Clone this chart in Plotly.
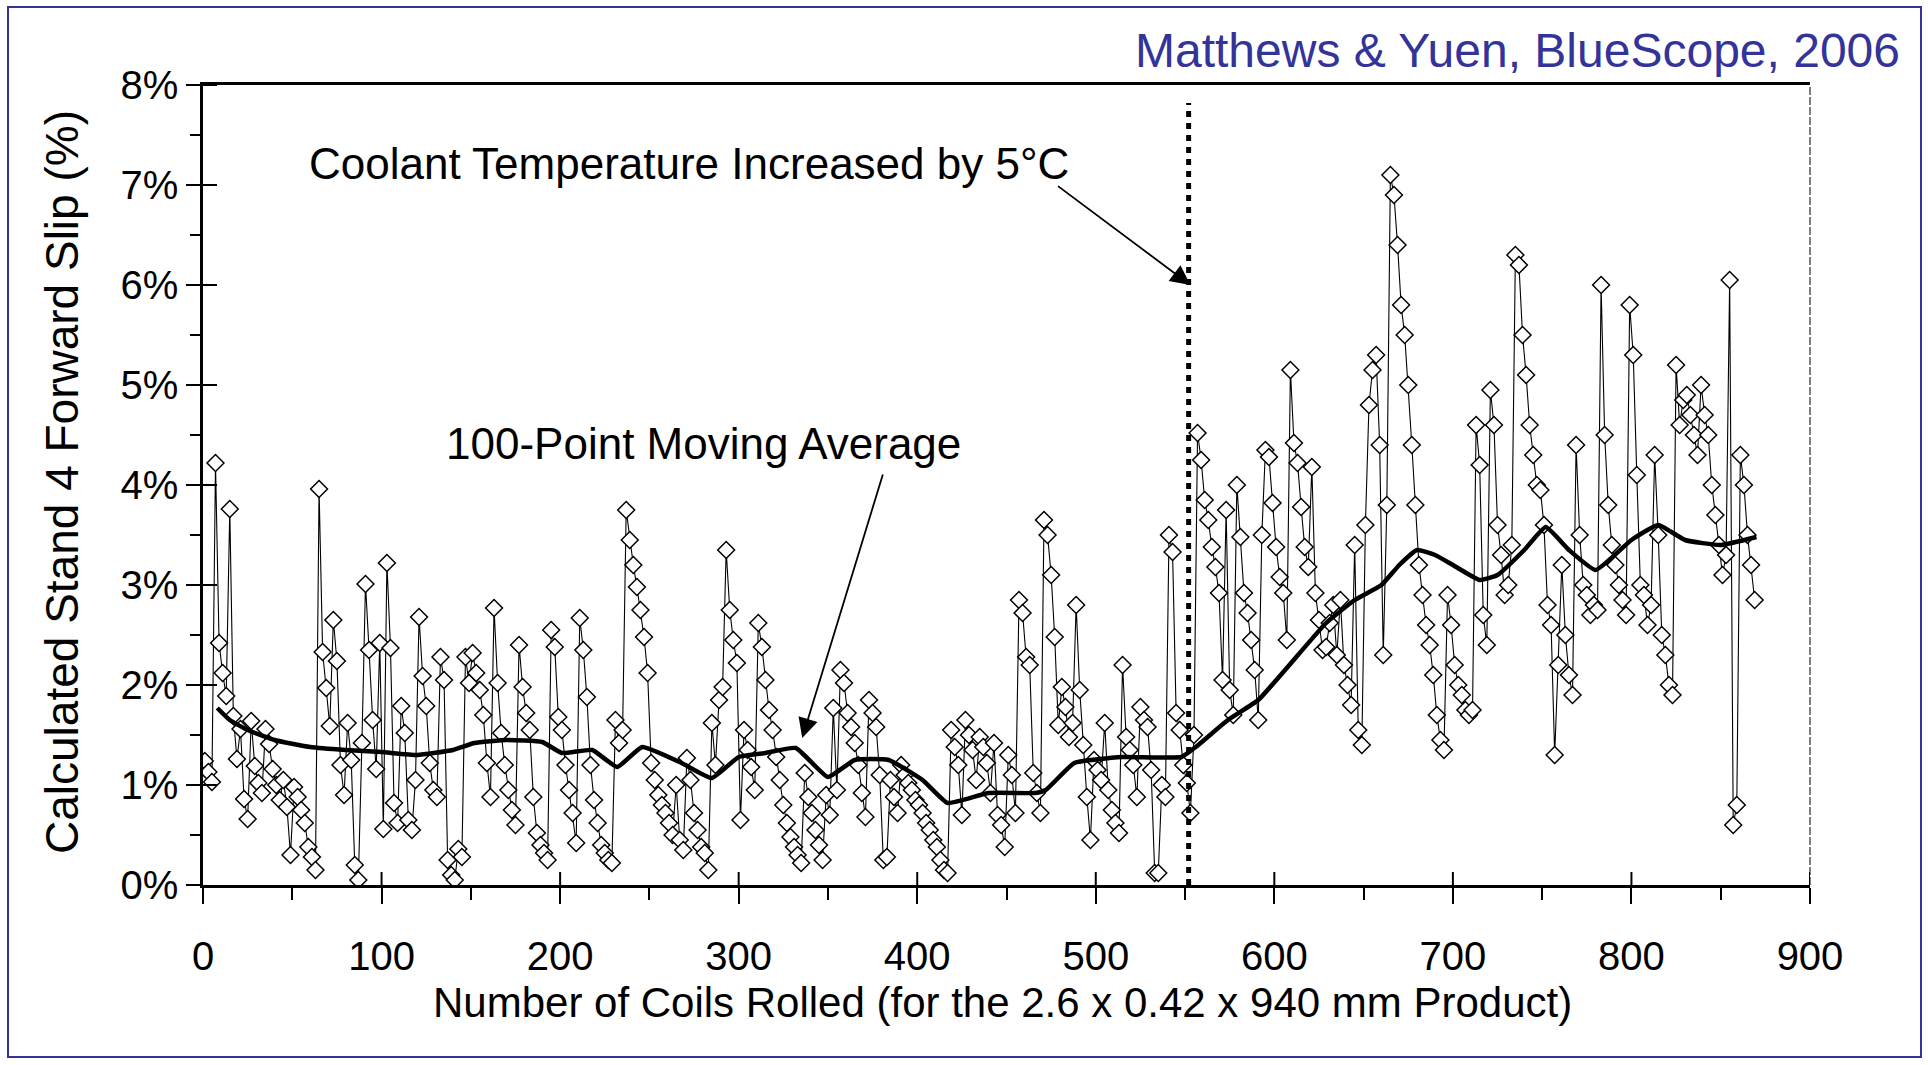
import plotly.graph_objects as go

# Stand 4 forward slip (%) for every second coil rolled, coils 1, 3, 5, ... 869
slip_pct = [
    1.24, 1.13, 1.03, 4.22, 2.42,   2.12, 1.89, 3.76, 1.69, 1.26,
    1.56, 0.86, 0.66, 1.64, 1.19,   1.02, 0.92, 1.56, 1.41, 1.16,
    1.00, 0.85, 1.05, 0.78, 0.30,   0.98, 0.88, 0.75, 0.62, 0.38,
    0.28, 0.15, 3.96, 2.33, 1.97,   1.59, 2.65, 2.24, 1.20, 0.90,
    1.62, 1.25, 0.20, 0.05, 1.42,   3.01, 2.35, 1.65, 1.16, 2.42,
    0.56, 3.22, 2.37, 0.82, 0.62,   1.79, 1.52, 0.65, 0.55, 1.05,
    2.68, 2.09, 1.79, 1.22, 0.95,   0.88, 2.28, 2.05, 0.25, 0.10,
    0.05, 0.36, 0.28, 2.28, 2.02,
    2.32, 2.12, 1.95, 1.70, 1.22,   0.88, 2.77, 2.02, 1.52, 1.20,
    0.95, 0.75, 0.60, 2.40, 1.98,   1.72, 1.55, 0.88, 0.52, 0.40,
    0.32, 0.25, 2.55, 2.38, 1.68,   1.55, 1.20, 0.95, 0.72, 0.42,
    2.67, 2.35, 1.88, 1.20, 0.85,   0.62, 0.40, 0.32, 0.25, 0.22,
    1.65, 1.42, 1.55, 3.75, 3.45,   3.20, 2.98, 2.75, 2.48, 2.12,
    1.22, 1.05, 0.90, 0.80, 0.72,   0.62, 0.50, 1.00, 0.45, 0.35,
    1.27, 1.05, 0.72, 0.55, 0.38,   0.32, 0.15, 1.62, 1.20, 1.85,
    1.98, 3.35, 2.75, 2.45, 2.22,   0.65, 1.55, 1.35, 1.18, 0.95,
    2.62, 2.38, 2.05, 1.75, 1.55,
    1.28, 1.05, 0.80, 0.62, 0.48,   0.38, 0.30, 0.22, 1.12, 0.88,
    0.72, 0.55, 0.40, 0.25, 0.90,   0.70, 1.77, 0.95, 2.15, 2.02,
    1.72, 1.58, 1.42, 1.20, 0.92,   0.68, 1.85, 1.72, 1.58, 1.10,
    0.25, 0.28, 1.05, 0.88, 0.72,   1.20, 1.10, 1.02, 0.95, 0.85,
    0.80, 0.72, 0.62, 0.55, 0.45,   0.38, 0.25, 0.15, 0.12, 1.55,
    1.38, 1.20, 0.70, 1.65, 1.50,   1.35, 1.05, 1.48, 1.38, 1.22,
    0.92, 1.42, 0.70, 0.60, 0.38,   1.30, 1.10, 0.72, 2.85, 2.72,
    2.28, 2.20, 1.12, 0.92, 0.72,   3.65, 3.50, 3.10, 2.48, 1.60,
    1.98, 1.78, 1.48, 1.62, 2.80,   1.95, 1.40, 0.88, 0.45, 1.25,
    1.15, 1.05, 1.62, 0.95, 0.75,   0.62, 0.52, 2.20, 1.48, 1.35,
    1.20, 0.88, 1.78, 1.65, 1.58,   1.15, 0.12, 0.12, 1.00, 0.88,
    3.50, 3.33, 1.72, 1.55, 1.20,   1.02, 0.72, 1.50, 4.52, 4.25,
    3.85, 3.65, 3.38, 3.18, 2.92,   2.05, 3.75, 1.95, 1.70, 4.00,
    3.48, 2.92, 2.72, 2.45, 2.15,   1.65, 3.50, 4.35, 4.28, 3.82,
    3.38, 3.08, 2.92, 2.45, 5.15,   4.42, 4.22, 3.78, 3.38, 3.18,
    4.18, 2.92, 2.65, 2.35, 2.38,
    2.62, 2.80, 2.30, 2.85, 2.20,   2.00, 1.80, 3.40, 1.55, 1.40,
    3.60, 4.80, 5.15, 5.30, 4.40,   2.30, 3.80, 7.10, 6.90, 6.40,
    5.80, 5.50, 5.00, 4.40, 3.80,   3.20, 2.90, 2.60, 2.40, 2.10,
    1.70, 1.45, 1.35, 2.90, 2.60,   2.20, 2.00, 1.90, 1.75, 1.70,
    1.75, 4.60, 4.20, 2.70, 2.40,   4.95, 4.60, 3.60, 3.30, 2.90,
    3.00, 3.40, 6.30, 6.20, 5.50,   5.10, 4.60, 4.30, 4.00, 3.95,
    3.60, 2.80, 2.60, 1.30, 2.20,   3.20, 2.50, 2.10, 1.90, 4.40,
    3.50, 3.00, 2.90, 2.70, 2.80,   2.75, 6.00, 4.50, 3.80, 3.40,
    3.20, 3.00, 2.85, 2.70, 5.80,   5.30, 4.10, 3.00, 2.90, 2.60,
    2.80, 4.30, 3.50, 2.50, 2.30,   2.00, 1.90, 5.20, 4.60, 4.85,
    4.90, 4.70, 4.50, 4.30, 5.00,   4.70, 4.50, 4.00, 3.70, 3.40,
    3.10, 3.30, 6.05, 0.60, 0.80,   4.30, 4.00, 3.50, 3.20, 2.85,
]
coil_no = [1 + 2 * i for i in range(len(slip_pct))]

# 100-point moving average of the slip
ma_coil = [8, 15, 25, 40, 60, 80, 100, 120, 140, 152, 170, 190, 201, 218,
           232, 246, 268, 285, 300, 315, 332, 350, 365, 384, 403, 417, 440,
           466, 472, 488, 515, 548, 556, 574, 591, 606, 629, 645, 660, 670,
           680, 690, 700, 715, 725, 740, 752, 765, 780, 800, 815, 830, 850, 870]
ma_pct = [1.77, 1.65, 1.55, 1.45, 1.38, 1.35, 1.33, 1.30, 1.35, 1.42, 1.45,
          1.43, 1.32, 1.35, 1.18, 1.38, 1.22, 1.07, 1.28, 1.32, 1.37, 1.08,
          1.25, 1.25, 1.05, 0.82, 0.92, 0.92, 0.95, 1.22, 1.28, 1.28, 1.38,
          1.65, 1.85, 2.15, 2.62, 2.85, 3.00, 3.20, 3.35, 3.30, 3.20, 3.05,
          3.10, 3.35, 3.58, 3.35, 3.15, 3.45, 3.60, 3.45, 3.40, 3.48]

# coolant temperature change
coolant_change_coil = 552

x_ticks = [0, 100, 200, 300, 400, 500, 600, 700, 800, 900]
y_ticks = [0, 1, 2, 3, 4, 5, 6, 7, 8]
y_tick_labels = ["0%", "1%", "2%", "3%", "4%", "5%", "6%", "7%", "8%"]

FONT = "Liberation Sans, Arial, Helvetica, sans-serif"
BLUE = "#333399"

fig = go.Figure()

fig.add_trace(go.Scatter(
    x=coil_no, y=slip_pct, mode="lines+markers",
    line=dict(color="black", width=1.1),
    marker=dict(symbol="diamond", size=13, color="white",
                line=dict(color="black", width=1.5)),
    showlegend=False,
))

fig.add_trace(go.Scatter(
    x=ma_coil, y=ma_pct, mode="lines",
    line=dict(color="black", width=4.5, shape="spline", smoothing=0.4),
    showlegend=False,
))

shapes = []
# dotted marker for the coolant change
shapes.append(dict(type="line", xref="x", yref="y",
                   x0=coolant_change_coil, x1=coolant_change_coil, y0=0, y1=7.82,
                   line=dict(color="black", width=5, dash="6px,6px"), layer="above"))
# inner halves of the major ticks (ticks cross the axis)
for xv in x_ticks[1:]:
    shapes.append(dict(type="line", xref="x", yref="y", ysizemode="pixel", yanchor=0,
                       x0=xv, x1=xv, y0=0, y1=13,
                       line=dict(color="black", width=2)))
for yv in y_ticks[1:]:
    shapes.append(dict(type="line", yref="y", xref="x", xsizemode="pixel", xanchor=0,
                       y0=yv, y1=yv, x0=0, x1=14,
                       line=dict(color="black", width=2)))
# thin right edge of the plotting frame
shapes.append(dict(type="line", xref="paper", yref="paper", x0=1, x1=1, y0=0, y1=1,
                   line=dict(color="black", width=1, dash="8px,2px")))
# outer blue frame
shapes.append(dict(type="rect", xref="paper", yref="paper",
                   x0=(8 - 203) / 1607, x1=(1921 - 203) / 1607,
                   y0=(885 - 1057) / 800, y1=(885 - 7) / 800,
                   line=dict(color=BLUE, width=2), fillcolor="rgba(0,0,0,0)"))

annotations = [
    dict(text="Matthews & Yuen, BlueScope, 2006", xref="paper", yref="paper",
         x=(1902 - 203) / 1607, y=(885 - 50) / 800, xanchor="right", yanchor="middle",
         showarrow=False, font=dict(family=FONT, size=48, color=BLUE)),
    dict(text="Calculated Stand 4 Forward Slip (%)", xref="paper", yref="paper",
         x=(62 - 203) / 1607, y=(885 - 482) / 800, textangle=-90,
         xanchor="center", yanchor="middle", showarrow=False,
         font=dict(family=FONT, size=46, color="black")),
    dict(text="Number of Coils Rolled (for the 2.6 x 0.42 x 940 mm Product)",
         xref="paper", yref="paper", x=(1002 - 203) / 1607, y=(885 - 1002) / 800,
         xanchor="center", yanchor="middle", showarrow=False,
         font=dict(family=FONT, size=42, color="black")),
    dict(text="Coolant Temperature Increased by 5°C", xref="x", yref="y",
         x=58, y=7.22, xanchor="left", yanchor="middle", showarrow=False,
         font=dict(family=FONT, size=44, color="black")),
    dict(text="100-Point Moving Average", xref="x", yref="y",
         x=135, y=4.42, xanchor="left", yanchor="middle", showarrow=False,
         font=dict(family=FONT, size=44, color="black")),
    dict(text="", x=553, y=6.0, ax=478, ay=7.0, xref="x", yref="y",
         axref="x", ayref="y", showarrow=True, arrowhead=2, arrowsize=2.2,
         arrowwidth=1.8, arrowcolor="black"),
    dict(text="", x=335.6, y=1.47, ax=381, ay=4.12, xref="x", yref="y",
         axref="x", ayref="y", showarrow=True, arrowhead=2, arrowsize=2.2,
         arrowwidth=1.8, arrowcolor="black"),
]

fig.update_layout(
    width=1928, height=1065,
    margin=dict(l=203, r=118, t=85, b=180),
    paper_bgcolor="white", plot_bgcolor="white",
    font=dict(family=FONT, color="black"),
    shapes=shapes, annotations=annotations,
    showlegend=False,
)

fig.update_xaxes(
    range=[0, 900], tickvals=x_ticks, showgrid=False, zeroline=False,
    showline=True, linecolor="black", linewidth=2.5, mirror=True,
    ticks="outside", ticklen=16, tickwidth=2, tickcolor="black",
    minor=dict(tickvals=[50, 150, 250, 350, 450, 550, 650, 750, 850],
               ticks="outside", ticklen=12, tickwidth=1.5, tickcolor="black"),
    tickfont=dict(family=FONT, size=40, color="black"),
    ticklabelstandoff=18,
)
fig.update_yaxes(
    range=[0, 8], tickvals=y_ticks, ticktext=y_tick_labels,
    showgrid=False, zeroline=False,
    showline=True, linecolor="black", linewidth=2.5,
    ticks="outside", ticklen=14, tickwidth=2, tickcolor="black",
    minor=dict(tickvals=[0.5, 1.5, 2.5, 3.5, 4.5, 5.5, 6.5, 7.5],
               ticks="outside", ticklen=10, tickwidth=1.5, tickcolor="black"),
    tickfont=dict(family=FONT, size=40, color="black"),
    ticklabelstandoff=0,
)

fig.write_html("out.html")
